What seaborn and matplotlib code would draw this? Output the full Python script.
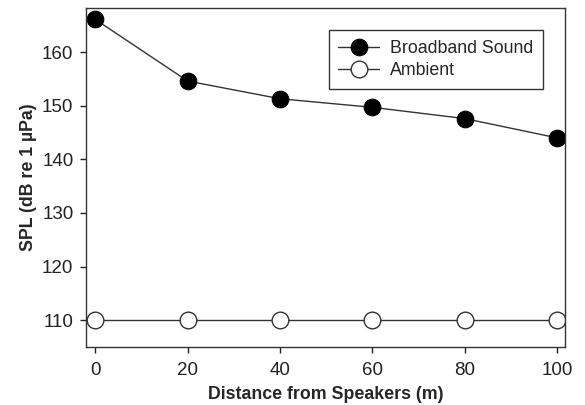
import matplotlib
matplotlib.use("Agg")
import matplotlib.pyplot as plt
import seaborn as sns
import pandas as pd

distance = [0, 20, 40, 60, 80, 100]
broadband = [166.1, 154.6, 151.3, 149.7, 147.6, 144.0]
ambient = [110, 110, 110, 110, 110, 110]

sns.set_style("ticks")
plt.rcParams['font.family'] = ['Liberation Sans', 'DejaVu Sans']

fig = plt.figure(figsize=(5.85, 4.05), dpi=100)
ax = fig.add_axes([0.147, 0.143, 0.819, 0.837])

df = pd.DataFrame({"Distance": distance * 2,
                   "SPL": broadband + ambient,
                   "Series": ["Broadband Sound"] * 6 + ["Ambient"] * 6})

sns.lineplot(data=df[df.Series == "Broadband Sound"], x="Distance", y="SPL", ax=ax,
             color="#333333", lw=1, marker="o", markersize=12, markerfacecolor="black",
             markeredgecolor="black", label="Broadband Sound")
sns.lineplot(data=df[df.Series == "Ambient"], x="Distance", y="SPL", ax=ax,
             color="#333333", lw=1, marker="o", markersize=12, markerfacecolor="white",
             markeredgecolor="#333333", markeredgewidth=1, label="Ambient")

ax.set_xlim(-2, 101.7)
ax.set_ylim(105, 168.2)
ax.set_xticks(distance)
ax.set_yticks([110, 120, 130, 140, 150, 160])
ax.tick_params(direction="out", length=4, width=1, labelsize=13.5, colors="#222222", pad=5)
ax.tick_params(axis="x", pad=7)
for s in ax.spines.values():
    s.set_visible(True)
    s.set_linewidth(1)
    s.set_color("#333333")
ax.set_xlabel("Distance from Speakers (m)", fontsize=12.8, fontweight="bold", labelpad=5)
ax.set_ylabel("SPL (dB re 1 \u00b5Pa)", fontsize=12.8, fontweight="bold", labelpad=4)

leg = ax.legend(loc="upper right", bbox_to_anchor=(0.954, 0.935), borderaxespad=0,
                fontsize=12.8,
                frameon=True, fancybox=False, edgecolor="#333333", framealpha=1,
                handlelength=2.3, borderpad=0.55, labelspacing=0.3, handletextpad=0.6)
leg.get_frame().set_linewidth(1)

fig.savefig("out.png", dpi=100)
